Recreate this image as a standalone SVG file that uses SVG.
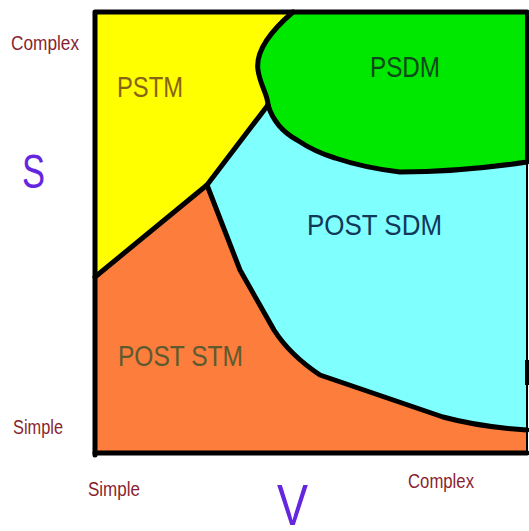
<svg xmlns="http://www.w3.org/2000/svg" width="529" height="531" viewBox="0 0 529 531">
<style>
.ax{font-family:"Liberation Sans",Arial,sans-serif;font-size:20px;fill:#8a1f30}
.big{font-family:"Liberation Sans",Arial,sans-serif;fill:#6526e0}
.lbl{font-family:"Liberation Sans",Arial,sans-serif;font-size:30px}
.bd{fill:none;stroke:#000;stroke-width:5;stroke-linejoin:round;stroke-linecap:round}
</style>
<rect width="529" height="531" fill="#fff"/>
<g id="region-post-stm">
<rect x="95" y="12" width="432" height="441" fill="#fc7d3c"/>
<text class="lbl" x="118" y="366" textLength="125" lengthAdjust="spacingAndGlyphs" fill="#5e5a30">POST STM</text>
</g>
<g id="region-pstm">
<path d="M95,12 L293,12 C272,30 255,50 258,70 C260,85 268,95 268,105 L207,185 L95,277 Z" fill="#ffff00"/>
<text class="lbl" x="117" y="97" textLength="66" lengthAdjust="spacingAndGlyphs" fill="#876414">PSTM</text>
</g>
<g id="region-psdm">
<path d="M293,12 L527,12 L527,162 Q460,172 400,172 Q365,168 335,158 Q315,152 297,140 Q275,128 268,105 C268,95 260,85 258,70 C255,50 272,30 293,12 Z" fill="#00e800"/>
<text class="lbl" x="370" y="77" textLength="70" lengthAdjust="spacingAndGlyphs" fill="#0c4a1c">PSDM</text>
</g>
<g id="region-post-sdm">
<path d="M268,105 Q275,128 297,140 Q315,152 335,158 Q365,168 400,172 Q460,172 527,162 L527,430 Q480,427 443,417 L320,375 Q290,355 274,330 L240,270 L207,185 Z" fill="#80ffff"/>
<text class="lbl" x="307" y="235" textLength="135" lengthAdjust="spacingAndGlyphs" fill="#12385a">POST  SDM</text>
</g>
<g id="connectors">
<path class="bd" d="M293,12 C272,30 255,50 258,70 C260,85 268,95 268,105"/>
<path class="bd" d="M268,105 Q275,128 297,140 Q315,152 335,158 Q365,168 400,172 Q460,172 527,162"/>
<path class="bd" d="M268,105 L207,185 L95,277"/>
<path class="bd" d="M207,185 L240,270 L274,330 Q290,355 320,375 L443,417 Q480,427 527,430"/>
<path class="bd" d="M95,455 L95,12 L527,12"/>
<path class="bd" d="M95,453 L527,453"/>
<path d="M527,12 L527,453" stroke="#000" stroke-width="2" fill="none"/>
<path d="M527,12 L527,162 M527,360 L527,385" stroke="#000" stroke-width="4" fill="none"/>
</g>
<g id="axis-labels">
<text class="ax" x="11" y="50" textLength="68" lengthAdjust="spacingAndGlyphs">Complex</text>
<text class="ax" x="13" y="434" textLength="50" lengthAdjust="spacingAndGlyphs">Simple</text>
<text class="ax" x="88" y="496" textLength="52" lengthAdjust="spacingAndGlyphs">Simple</text>
<text class="ax" x="408" y="488" textLength="66" lengthAdjust="spacingAndGlyphs">Complex</text>
<text class="big" x="22" y="188" font-size="48" textLength="23" lengthAdjust="spacingAndGlyphs">S</text>
<text class="big" x="277" y="525" font-size="58" textLength="31" lengthAdjust="spacingAndGlyphs">V</text>
</g>
</svg>
